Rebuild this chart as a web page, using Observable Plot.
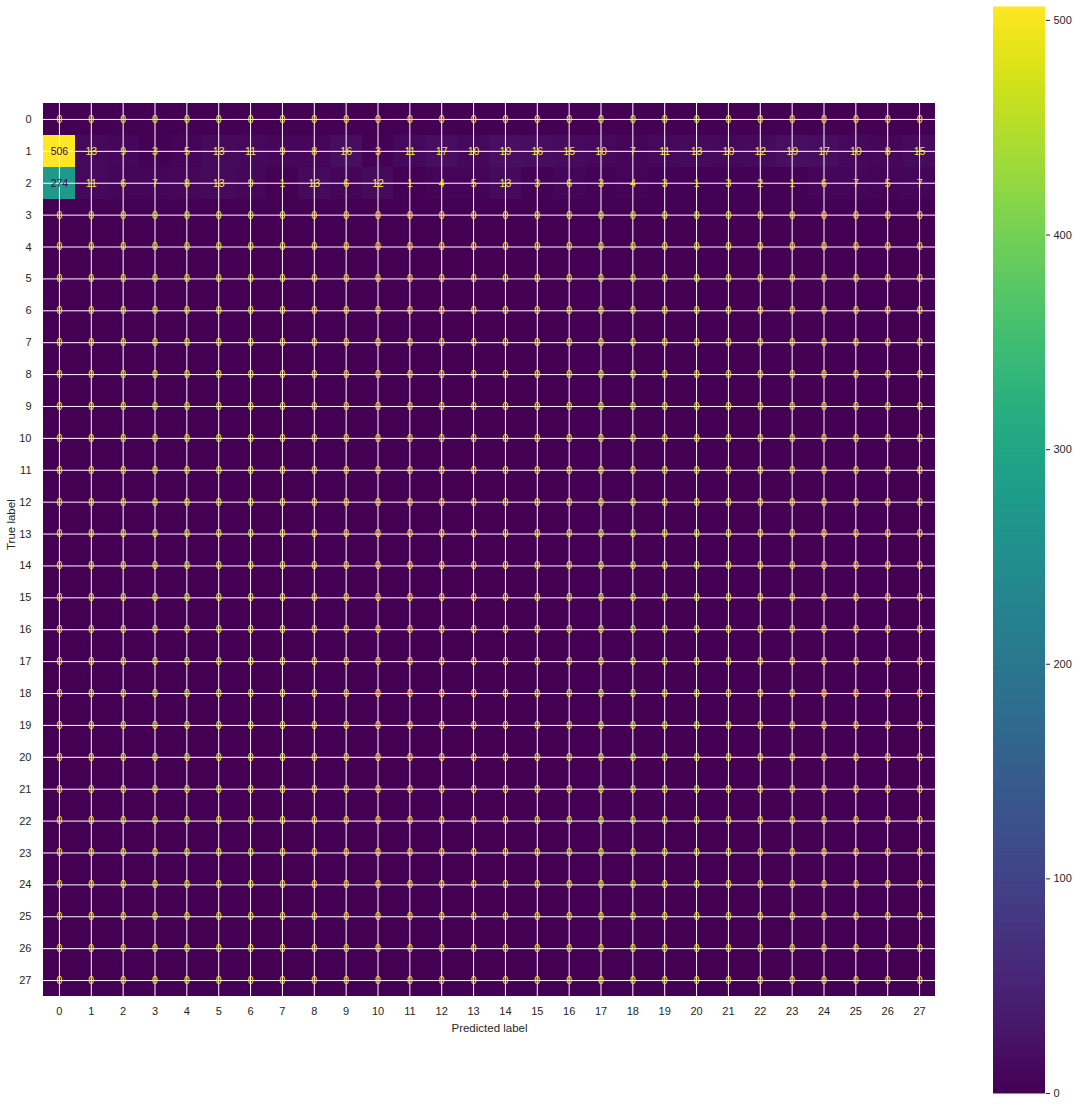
<!DOCTYPE html>
<html>
<head>
<meta charset="utf-8">
<script src="https://cdn.jsdelivr.net/npm/d3@7"></script>
<script src="https://cdn.jsdelivr.net/npm/@observablehq/plot@0.6"></script>
<style>
  html, body { margin: 0; padding: 0; background: #fff; }
  #wrap { position: relative; width: 1081px; height: 1107px; font-family: "Liberation Sans", Arial, sans-serif; }
  #main, #cbar { position: absolute; top: 0; }
  #main { left: 0; }
  #cbar { left: 993px; }
</style>
</head>
<body>
<div id="wrap"><div id="main"></div><div id="cbar"></div></div>
<script>
const labels = d3.range(28).map(String);
const row1 = [506, 13, 9, 3, 5, 13, 11, 9, 8, 16, 3, 11, 17, 10, 19, 16, 15, 10, 7, 11, 13, 10, 12, 19, 17, 10, 8, 15];
const row2 = [274, 11, 6, 7, 8, 13, 9, 1, 13, 6, 12, 1, 4, 5, 13, 3, 6, 3, 4, 3, 1, 3, 2, 1, 6, 7, 5, 7];
const colorTicks = [0, 100, 200, 300, 400, 500];

const cells = [];
labels.forEach((t, i) => {
  labels.forEach((p, j) => {
    let v = 0;
    if (i === 1) v = row1[j];
    if (i === 2) v = row2[j];
    cells.push({true: t, pred: p, value: v});
  });
});
const vmax = d3.max(cells, d => d.value);
const thresh = vmax / 2;

const main = Plot.plot({
  width: 1081,
  height: 1107,
  marginLeft: 43,
  marginRight: 146,
  marginTop: 103,
  marginBottom: 111,
  style: {fontFamily: "Liberation Sans, Arial, sans-serif", fontSize: "11px", color: "#262626", background: "transparent"},
  x: {domain: labels, padding: 0, round: false, label: null},
  y: {domain: labels, padding: 0, round: false, label: null},
  color: {type: "linear", scheme: "viridis", domain: [0, vmax]},
  marks: [
    Plot.cell(cells, {x: "pred", y: "true", fill: "value", inset: 0, shapeRendering: "crispEdges"}),
    Plot.gridX(labels, {stroke: "white", strokeOpacity: 1, strokeWidth: 1}),
    Plot.gridY(labels, {stroke: "white", strokeOpacity: 1, strokeWidth: 1}),
    Plot.text(cells, {x: "pred", y: "true", text: d => String(d.value), fill: d => d.value > thresh ? "#440154" : "#fde725", fontSize: 10.5}),
    Plot.axisX({tickSize: 0, tickPadding: 11, fontSize: 11, fill: "#262626"}),
    Plot.axisY({tickSize: 0, tickPadding: 12, fontSize: 11, fill: "#262626"}),
    Plot.text(["Predicted label"], {frameAnchor: "bottom", dy: 35, fontSize: 11.5, fill: "#262626"}),
    Plot.text(["True label"], {frameAnchor: "left", dx: -32, rotate: -90, fontSize: 11.5, fill: "#262626"})
  ]
});
document.getElementById("main").appendChild(main);

const bands = d3.range(0, 507).map(v => ({lo: v, hi: Math.min(v + 1, vmax)})).filter(d => d.lo < vmax);
const cbar = Plot.plot({
  width: 88,
  height: 1107,
  marginLeft: 0,
  marginRight: 36,
  marginTop: 7,
  marginBottom: 14,
  style: {fontFamily: "Liberation Sans, Arial, sans-serif", fontSize: "11px", color: "#262626", background: "transparent"},
  x: {axis: null},
  y: {domain: [0, vmax], label: null, ticks: colorTicks},
  color: {type: "linear", scheme: "viridis", domain: [0, vmax]},
  marks: [
    Plot.rectY(bands, {y1: "lo", y2: "hi", fill: "lo", x1: 0, x2: 1, insetTop: -0.5, insetBottom: -0.5}),
    Plot.axisY({anchor: "right", ticks: colorTicks, tickSize: 4, tickPadding: 4, fontSize: 11, fill: "#262626", stroke: "#262626"})
  ]
});
document.getElementById("cbar").appendChild(cbar);
</script>
</body>
</html>
